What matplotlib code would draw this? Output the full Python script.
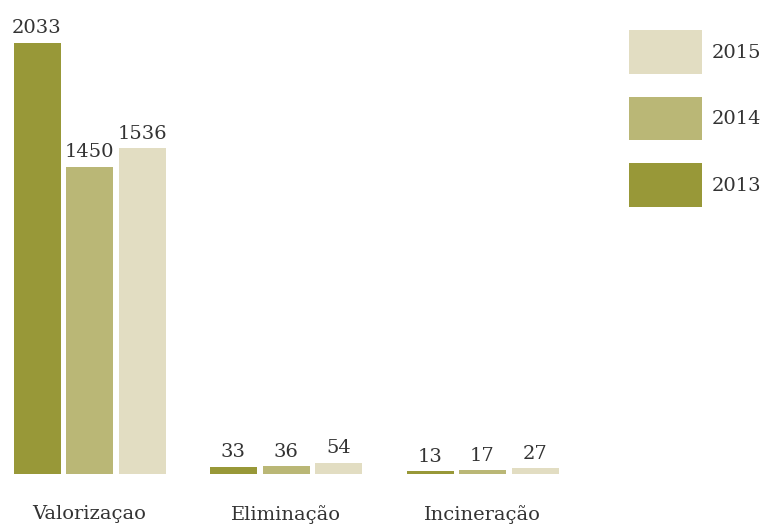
import matplotlib
matplotlib.use("Agg")
import matplotlib.pyplot as plt
import numpy as np

# data
categories = ["Valorizaçao", "Eliminação", "Incineração"]
years = ["2013", "2014", "2015"]
v2013 = [2033, 33, 13]
v2014 = [1450, 36, 17]
v2015 = [1536, 54, 27]
colors = ["#989838", "#bab776", "#e2ddc2"]

plt.rcParams["font.family"] = ["DejaVu Serif"]
text_color = "#333333"

fig = plt.figure(figsize=(7.64, 5.26), dpi=100)
# axes covers the full width; bottom of bars at 474 px, tallest at 43 px
ax = fig.add_axes([0, 52 / 526, 1, 431 / 526])

x = np.arange(len(categories))
pitch = 196.5
width = 47 / pitch
offset = 52.5 / pitch

for i, (vals, yr) in enumerate(zip([v2013, v2014, v2015], years)):
    bars = ax.bar(x + (i - 1) * offset, vals, width, color=colors[i], label=yr)
    ax.bar_label(bars, padding=4, fontsize=14, color=text_color)

ax.set_xlim(-89.5 / pitch, (764 - 89.5) / pitch)
ax.set_ylim(0, 2033)

ax.set_xticks(x)
ax.set_xticklabels(categories, fontsize=14, color=text_color)
ax.tick_params(axis="x", length=0, pad=22)
ax.set_yticks([])
for s in ax.spines.values():
    s.set_visible(False)

# legend, newest year on top
handles, labels = ax.get_legend_handles_labels()
leg = ax.legend(handles[::-1], labels[::-1], loc="upper left",
                bbox_to_anchor=(611 / 764, 1.07), frameon=False,
                fontsize=14, handlelength=3.78, handleheight=3.08,
                labelspacing=1.17, handletextpad=0.5)
for t in leg.get_texts():
    t.set_color(text_color)

fig.savefig("out.png", dpi=100)
